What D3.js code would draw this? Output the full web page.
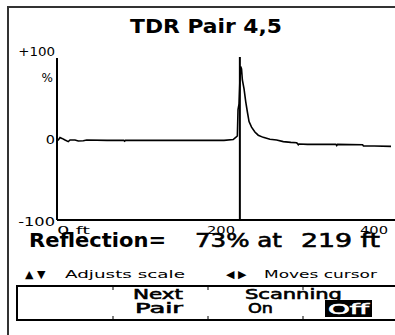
<!DOCTYPE html>
<html>
<head>
<meta charset="utf-8">
<script src="https://cdn.jsdelivr.net/npm/d3@7"></script>
<style>
  html, body { margin: 0; padding: 0; background: #fff; }
  svg { display: block; }
  text { font-family: "DejaVu Sans", sans-serif; fill: #000; }
</style>
</head>
<body>
<svg id="chart" width="395" height="335"></svg>
<script>
// TDR trace: distance along the pair (ft) and reflection (%)
const distanceFt = [0, 1.6, 3.6, 6, 9.6, 13.5, 15.6, 21.6, 25.5, 31.5, 35.6, 60, 80, 81, 82, 120, 160, 200, 211, 214.4, 216, 216.8, 218, 219, 220, 221, 222, 224, 226, 228, 230, 233, 237, 241, 247, 255, 263, 271, 280, 287, 288, 289, 290, 300, 320, 334, 335, 336, 366, 367, 380, 400];
const reflectionPct = [0, 0, 3, 2, 0, -2, 0, 0, -1.2, -1, 0, -0.5, -0.5, -1.5, -0.5, -0.5, -0.5, -0.5, 0.5, 3.5, 5, 38, 45, 73, 92, 89, 75, 64, 48, 35, 23, 16, 10, 6, 3.3, 1, 0, -2, -3, -3.5, -4.5, -6, -5, -5.5, -5.5, -5.5, -7, -5.5, -6, -7.5, -7.5, -8];

const yTickValues = [100, 0, -100];
const yTickLabels = ["+100", "0", "-100"];
const xTickValues = [0, 200, 400];
const xTickLabels = ["0 ft", "200", "400"];

const cursorFt = 219;
const cursorPct = reflectionPct[distanceFt.indexOf(cursorFt)];

const svg = d3.select("#chart");

// Instrument screen bezel
svg.append("rect")
  .attr("x", 8).attr("y", 7).attr("width", 400).attr("height", 340)
  .attr("fill", "none").attr("stroke", "#333").attr("stroke-width", 2);

// Title
svg.append("text")
  .attr("x", 206).attr("y", 33)
  .attr("text-anchor", "middle")
  .attr("font-family", "DejaVu Sans Mono").attr("font-weight", "bold")
  .attr("font-size", 19)
  .attr("textLength", 152).attr("lengthAdjust", "spacingAndGlyphs")
  .text("TDR Pair 4,5");

const x = d3.scaleLinear().domain([0, 400]).range([57, 391]);
const y = d3.scaleLinear().domain([-100, 100]).range([220, 60]);

// Axes (domain lines only; labels are placed beside them)
svg.append("g")
  .attr("transform", `translate(${x(0)},0)`)
  .call(d3.axisLeft(y).tickValues([]).tickSizeOuter(0))
  .call(g => g.select(".domain").attr("stroke", "#000").attr("stroke-width", 2)
    .attr("d", `M0,${y(100) - 2}V${y(-100)}`));

svg.append("g")
  .attr("transform", `translate(0,${y(-100)})`)
  .call(d3.axisBottom(x).tickValues([]).tickSizeOuter(0))
  .call(g => g.select(".domain").attr("stroke", "#000").attr("stroke-width", 2)
    .attr("d", `M${x(0)},0H395`));

// Y tick labels
const yOffsets = [-4, 4, 6];
svg.selectAll(".ylab").data(yTickValues).join("text")
  .attr("class", "ylab")
  .attr("x", 55)
  .attr("y", (d, i) => y(d) + yOffsets[i])
  .attr("text-anchor", "end")
  .attr("font-size", 12)
  .attr("textLength", (d, i) => yTickLabels[i].length * 9.2)
  .attr("lengthAdjust", "spacingAndGlyphs")
  .text((d, i) => yTickLabels[i]);

svg.append("text")
  .attr("x", 53).attr("y", 82)
  .attr("text-anchor", "end").attr("font-size", 12)
  .text("%");

// X tick labels
const xAnchors = ["start", "middle", "end"];
const xShift = [0, -3, -3];
svg.selectAll(".xlab").data(xTickValues).join("text")
  .attr("class", "xlab")
  .attr("x", (d, i) => x(d) + xShift[i])
  .attr("y", 234)
  .attr("text-anchor", (d, i) => xAnchors[i])
  .attr("font-size", 11)
  .attr("textLength", (d, i) => i === 0 ? 33 : 28)
  .attr("lengthAdjust", "spacingAndGlyphs")
  .text((d, i) => xTickLabels[i]);

// Trace
const line = d3.line()
  .x(d => x(d[0]))
  .y(d => y(d[1]));

svg.append("path")
  .datum(distanceFt.map((d, i) => [d, reflectionPct[i]]))
  .attr("fill", "none")
  .attr("stroke", "#000")
  .attr("stroke-width", 1.6)
  .attr("stroke-linejoin", "miter")
  .attr("d", line);

// Cursor
svg.append("line")
  .attr("x1", x(cursorFt)).attr("x2", x(cursorFt))
  .attr("y1", 57).attr("y2", y(-100))
  .attr("stroke", "#000").attr("stroke-width", 2);

// Readout
svg.append("text")
  .attr("x", 29).attr("y", 247)
  .attr("font-weight", "bold").attr("font-size", 16)
  .attr("textLength", 137).attr("lengthAdjust", "spacingAndGlyphs")
  .attr("transform", "translate(0,247) scale(1,1.2) translate(0,-247)")
  .text("Reflection=");
svg.append("text")
  .attr("x", 195).attr("y", 247)
  .attr("font-size", 16)
  .attr("transform", "translate(0,247) scale(1,1.2) translate(0,-247)")
  .attr("textLength", 87).attr("lengthAdjust", "spacingAndGlyphs")
  .style("stroke", "#000").style("stroke-width", 0.5)
  .text(`${cursorPct}% at`);
svg.append("text")
  .attr("x", 301).attr("y", 247)
  .attr("font-size", 16)
  .attr("transform", "translate(0,247) scale(1,1.2) translate(0,-247)")
  .attr("textLength", 79).attr("lengthAdjust", "spacingAndGlyphs")
  .style("stroke", "#000").style("stroke-width", 0.5)
  .text(`${cursorFt} ft`);

// Key hints
svg.append("text")
  .attr("x", 25).attr("y", 278).attr("font-size", 11)
  .text("▲ ▼");
svg.append("text")
  .attr("x", 65).attr("y", 278).attr("font-size", 11)
  .attr("textLength", 120).attr("lengthAdjust", "spacingAndGlyphs")
  .text("Adjusts scale");
svg.append("text")
  .attr("x", 226).attr("y", 278).attr("font-size", 11)
  .text("◀ ▶");
svg.append("text")
  .attr("x", 264).attr("y", 278).attr("font-size", 11)
  .attr("textLength", 113).attr("lengthAdjust", "spacingAndGlyphs")
  .text("Moves cursor");

// Soft-key menu
svg.append("rect")
  .attr("x", 17).attr("y", 286).attr("width", 400).attr("height", 34)
  .attr("fill", "none").attr("stroke", "#000").attr("stroke-width", 2);

[113, 208, 303].forEach(px => {
  svg.append("line").attr("x1", px).attr("x2", px).attr("y1", 286).attr("y2", 290)
    .attr("stroke", "#000").attr("stroke-width", 1);
  svg.append("line").attr("x1", px).attr("x2", px).attr("y1", 316).attr("y2", 320)
    .attr("stroke", "#000").attr("stroke-width", 1);
});

const menuText = (t, x0, yb, w) => svg.append("text")
  .attr("x", x0).attr("y", yb).attr("font-size", 12)
  .attr("transform", `translate(0,${yb}) scale(1,1.15) translate(0,${-yb})`)
  .attr("textLength", w).attr("lengthAdjust", "spacingAndGlyphs")
  .style("stroke", "#000").style("stroke-width", 0.5)
  .text(t);

menuText("Next", 133, 299, 50);
menuText("Pair", 135, 313, 48);
menuText("Scanning", 245, 299, 97);
menuText("On", 248, 313, 25);

svg.append("rect")
  .attr("x", 325).attr("y", 300).attr("width", 47).attr("height", 17)
  .attr("fill", "#000");
menuText("Off", 328, 314, 41).style("fill", "#fff").style("stroke", "#fff");
</script>
</body>
</html>
